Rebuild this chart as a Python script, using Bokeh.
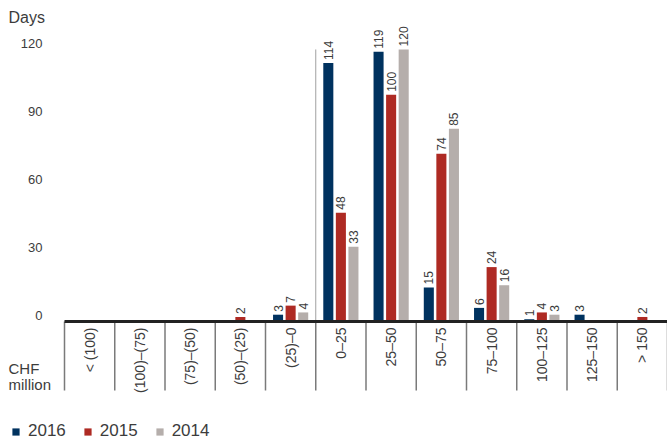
import math
from bokeh.plotting import figure
from bokeh.models import (FixedTicker, ColumnDataSource, Label, Legend, LegendItem)
from bokeh.core.properties import value
from bokeh.embed import file_html
from bokeh.resources import INLINE

categories = ["< (100)", "(100)–(75)", "(75)–(50)", "(50)–(25)", "(25)–0", "0–25",
              "25–50", "50–75", "75–100", "100–125", "125–150", "> 150"]
years = ["2016", "2015", "2014"]
v2016 = [0, 0, 0, 0, 3, 114, 119, 15, 6, 1, 3, 0]
v2015 = [0, 0, 0, 2, 7, 48, 100, 74, 24, 4, 0, 2]
v2014 = [0, 0, 0, 0, 4, 33, 120, 85, 16, 3, 0, 0]
y_ticks = [0, 30, 60, 90, 120]

colors = ["#00325F", "#AE2A23", "#B5AEAB"]
offsets = [-0.25, 0.0, 0.25]
series = [v2016, v2015, v2014]
FONT = "Liberation Sans"
TXT = "#3c3c3c"

W, H = 667, 441
LEFT, BASE = 64, 321   # frame pixel of x=0 and y=0
PXX = 50.25            # px per category
PXY = 2.267            # px per day
x0 = -LEFT / PXX
x1 = (W - LEFT) / PXX
y1 = BASE / PXY
y0 = -(H - BASE) / PXY

p = figure(width=W, height=H, output_backend="svg", toolbar_location=None,
           x_range=(x0, x1), y_range=(y0, y1),
           min_border_left=0, min_border_right=0, min_border_top=0, min_border_bottom=0)
p.outline_line_color = None
p.xgrid.visible = False
p.ygrid.visible = False
p.yaxis.visible = False
p.background_fill_color = "white"
p.border_fill_color = "white"

renderers = []
for vals, col, off in zip(series, colors, offsets):
    xs = [i + 0.5 + off for i in range(len(categories))]
    src = ColumnDataSource(dict(x=xs, top=vals))
    r = p.vbar(x="x", top="top", width=0.2, bottom=0, source=src,
               fill_color=col, line_color=None)
    renderers.append(r)
    lx = [x for x, v in zip(xs, vals) if v > 0]
    lv = [v for v in vals if v > 0]
    lsrc = ColumnDataSource(dict(x=lx, y=lv, t=[str(v) for v in lv]))
    p.text(x="x", y="y", text="t", source=lsrc, angle=math.pi / 2,
           text_align="left", text_baseline="middle", y_offset=-3,
           text_font=value(FONT), text_font_size="12px", text_color=TXT)

# zero line between negative and positive buckets
p.segment(x0=[5], y0=[0], x1=[5], y1=[120], line_color="#a0a0a0", line_width=1)

# category dividers below the baseline
bounds = list(range(len(categories) + 1))
p.segment(x0=bounds, y0=[0] * len(bounds), x1=bounds, y1=[-69 / PXY] * len(bounds),
          line_color="#7a7a7a", line_width=1.5)

# y tick labels
ysrc = ColumnDataSource(dict(x=[0] * len(y_ticks), y=y_ticks, t=[str(t) for t in y_ticks]))
p.text(x="x", y="y", text="t", source=ysrc, x_offset=-22, y_offset=-6,
       text_align="right", text_baseline="middle",
       text_font=value(FONT), text_font_size="13px", text_color=TXT)

# x axis at y = 0
xa = p.xaxis[0]
xa.fixed_location = 0
xa.bounds = (0, len(categories))
xa.ticker = FixedTicker(ticks=[i + 0.5 for i in range(len(categories))], minor_ticks=[])
xa.major_label_overrides = {i + 0.5: c for i, c in enumerate(categories)}
xa.major_label_orientation = math.pi / 2
xa.major_tick_out = 0
xa.major_tick_in = 0
xa.minor_tick_out = 0
xa.minor_tick_in = 0
xa.axis_line_color = "#222222"
xa.axis_line_width = 3
xa.major_label_standoff = 6
xa.major_label_text_font = FONT
xa.major_label_text_font_size = "14px"
xa.major_label_text_color = TXT

p.add_layout(Label(x=x0 + 8 / PXX, y=(BASE - 17) / PXY, text="Days",
                   text_font=FONT, text_font_size="16px", text_color=TXT,
                   text_baseline="middle", text_align="left"))
p.add_layout(Label(x=x0 + 8 / PXX, y=(BASE - 368) / PXY, text="CHF",
                   text_font=FONT, text_font_size="15px", text_color=TXT,
                   text_baseline="middle", text_align="left"))
p.add_layout(Label(x=x0 + 8 / PXX, y=(BASE - 384) / PXY, text="million",
                   text_font=FONT, text_font_size="15px", text_color=TXT,
                   text_baseline="middle", text_align="left"))

legend = Legend(items=[LegendItem(label=y, renderers=[r]) for y, r in zip(years, renderers)],
                orientation="horizontal", location=(11, 0),
                glyph_width=9, glyph_height=9, label_standoff=8, spacing=17,
                padding=0, margin=0, border_line_color=None, background_fill_alpha=0,
                label_text_font=FONT, label_text_font_size="17px", label_text_color=TXT)
p.add_layout(legend, "center")

open("out.html", "w").write(file_html(p, INLINE))
